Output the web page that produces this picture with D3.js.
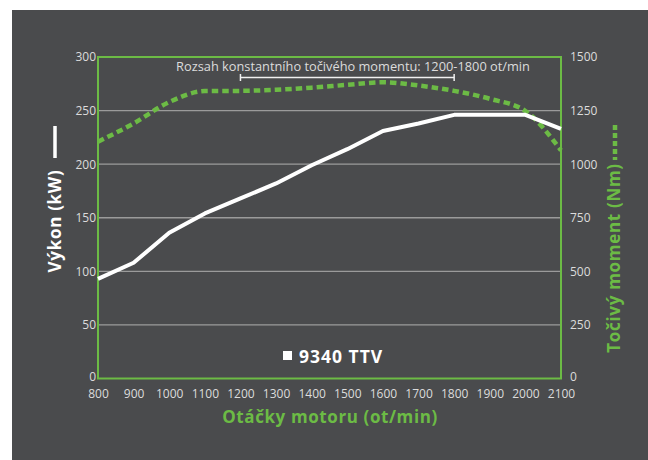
<!DOCTYPE html>
<html><head><meta charset="utf-8">
<script src="https://cdn.jsdelivr.net/npm/d3@7"></script>
<style>body{margin:0;background:#fff;} text{font-family:"Open Sans",sans-serif;}</style>
</head><body>
<svg id="c" width="648" height="460"></svg>
<script>
const rpm = [800,900,1000,1100,1200,1300,1400,1500,1600,1700,1800,1900,2000,2100];
const powerKW = [93,108,136,154,168,182,199,214,231,238,246,246,246,233];
const torqueNm = [1105,1190,1290,1341,1342,1347,1357,1370,1382,1367,1342,1305,1248,1064];
const xTicks = [800,900,1000,1100,1200,1300,1400,1500,1600,1700,1800,1900,2000,2100];
const leftTicks = [0,50,100,150,200,250,300];
const rightTicks = [0,250,500,750,1000,1250,1500];
const rangeStart = 1200, rangeEnd = 1800;

const green = "#6cbb45", bg = "#4a4b4d", txt = "#dcdcdc", grid = "#9b9b9b";
const svg = d3.select("#c");
svg.append("rect").attr("x",12).attr("y",10).attr("width",636).attr("height",450).attr("fill",bg);

const L=98,R=561,T=57,B=378.5;
const x = d3.scaleLinear().domain([800,2100]).range([L,R]);
const yL = d3.scaleLinear().domain([0,300]).range([B,T]);
const yR = d3.scaleLinear().domain([0,1500]).range([B,T]);

// gridlines
svg.append("g").selectAll("line").data(leftTicks.filter(d=>d>0&&d<300)).join("line")
  .attr("x1",L).attr("x2",R).attr("y1",d=>yL(d)).attr("y2",d=>yL(d))
  .attr("stroke",grid).attr("stroke-width",1.3);

// axes labels
const gl = d3.axisLeft(yL).tickValues(leftTicks).tickSize(0).tickPadding(2).tickFormat(d3.format("d"));
const gLeft = svg.append("g").attr("transform",`translate(${L},0)`).call(gl);
const gr = d3.axisRight(yR).tickValues(rightTicks).tickSize(0).tickPadding(9).tickFormat(d3.format("d"));
const gRight = svg.append("g").attr("transform",`translate(${R},0)`).call(gr);
const gb = d3.axisBottom(x).tickValues(xTicks).tickSize(0).tickPadding(11).tickFormat(d3.format("d"));
const gBot = svg.append("g").attr("transform",`translate(0,${B})`).call(gb);
[gLeft,gRight,gBot].forEach(g=>{
  g.select(".domain").remove();
  g.selectAll("text").attr("fill",txt).style("font-size","12px").style("font-family","'Open Sans',sans-serif");
});
gLeft.selectAll("text").filter(d=>d===0).attr("dy","0.2em");
gRight.selectAll("text").filter(d=>d===0).attr("dy","0.2em");

// frame
svg.append("rect").attr("x",L).attr("y",T).attr("width",R-L).attr("height",B-T)
  .attr("fill","none").attr("stroke",green).attr("stroke-width",2);

// torque line
const lineT = d3.line().x((d,i)=>x(rpm[i])).y(d=>yR(d)).curve(d3.curveMonotoneX);
svg.append("path").datum(torqueNm).attr("d",lineT).attr("fill","none")
  .attr("stroke",green).attr("stroke-width",4.5).attr("stroke-dasharray","6.5,4");
// power line
const lineP = d3.line().x((d,i)=>x(rpm[i])).y(d=>yL(d));
svg.append("path").datum(powerKW).attr("d",lineP).attr("fill","none")
  .attr("stroke","#fff").attr("stroke-width",4).attr("stroke-linejoin","round");

// bracket annotation
const by = 77.5;
const br = svg.append("g").attr("stroke","#f0f0f0").attr("stroke-width",1.5);
br.append("line").attr("x1",x(rangeStart)).attr("x2",x(rangeEnd)).attr("y1",by).attr("y2",by);
br.append("line").attr("x1",x(rangeStart)).attr("x2",x(rangeStart)).attr("y1",by-3.5).attr("y2",by+3.5);
br.append("line").attr("x1",x(rangeEnd)).attr("x2",x(rangeEnd)).attr("y1",by-3.5).attr("y2",by+3.5);
svg.append("text").attr("x",353).attr("y",71).attr("text-anchor","middle").attr("fill",txt)
  .style("font-size","12.8px").text("Rozsah konstantního točivého momentu: 1200-1800 ot/min");

// x title
svg.append("text").attr("x",330).attr("y",423).attr("text-anchor","middle").attr("fill",green)
  .style("font-size","17px").style("font-weight","bold").style("letter-spacing","0.6px").text("Otáčky motoru (ot/min)");

// left title
svg.append("text").attr("transform","translate(61,221) rotate(-90)").attr("text-anchor","middle")
  .attr("fill","#fff").style("font-size","17px").style("font-weight","bold").style("letter-spacing","0.7px").text("Výkon (kW)");
svg.append("line").attr("x1",55).attr("x2",55).attr("y1",126).attr("y2",158).attr("stroke","#fff").attr("stroke-width",3.5);

// right title
svg.append("text").attr("transform","translate(620,258) rotate(-90)").attr("text-anchor","middle")
  .attr("fill",green).style("font-size","17px").style("font-weight","bold").style("letter-spacing","0.7px").text("Točivý moment (Nm)");
svg.append("line").attr("x1",615).attr("x2",615).attr("y1",125).attr("y2",160).attr("stroke",green)
  .attr("stroke-width",4.5).attr("stroke-dasharray","5,3");

// legend
svg.append("rect").attr("x",283).attr("y",351).attr("width",9).attr("height",9).attr("fill","#fff");
svg.append("text").attr("x",299).attr("y",363).attr("fill","#fff")
  .style("font-size","17.5px").style("font-weight","bold").style("letter-spacing","1px").text("9340 TTV");
</script>
</body></html>
